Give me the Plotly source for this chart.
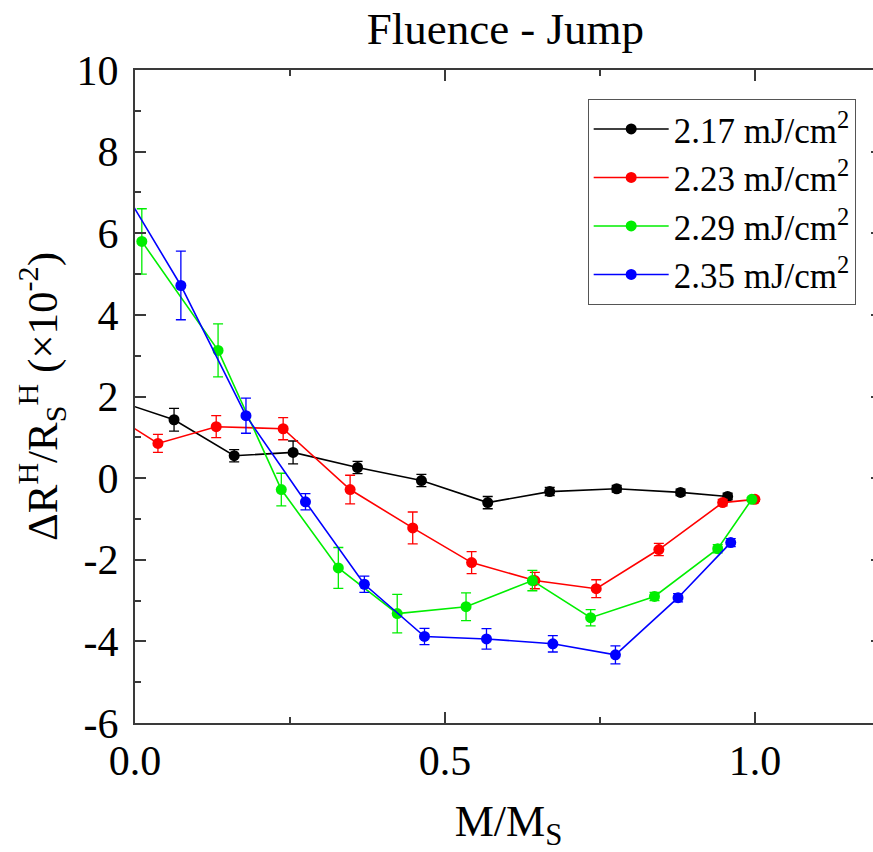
# Fluence - Jump: Hall jump vs M/Ms for four pump fluences
import plotly.graph_objects as go

# data (first point of some series sits just left of the axis)
x_217 = [-0.02, 0.063, 0.16, 0.255, 0.359, 0.462, 0.569, 0.669, 0.777, 0.880, 0.956]
y_217 = [1.85, 1.43, 0.55, 0.63, 0.26, -0.06, -0.6, -0.33, -0.26, -0.35, -0.45]
e_217 = [0, 0.28, 0.15, 0.28, 0.15, 0.15, 0.15, 0.1, 0.08, 0.08, 0.08]

x_223 = [-0.02, 0.037, 0.131, 0.239, 0.347, 0.448, 0.543, 0.645, 0.744, 0.845, 0.948, 1.0]
y_223 = [1.4, 0.85, 1.26, 1.21, -0.28, -1.22, -2.07, -2.51, -2.71, -1.75, -0.6, -0.52]
e_223 = [0, 0.22, 0.27, 0.27, 0.35, 0.39, 0.27, 0.2, 0.22, 0.15, 0.08, 0.05]

x_229 = [0.011, 0.134, 0.236, 0.328, 0.423, 0.534, 0.641, 0.735, 0.838, 0.94, 0.995]
y_229 = [5.8, 3.13, -0.28, -2.2, -3.32, -3.15, -2.51, -3.42, -2.9, -1.73, -0.52]
e_229 = [0.8, 0.65, 0.4, 0.5, 0.47, 0.34, 0.25, 0.2, 0.1, 0.1, 0.05]

x_235 = [-0.02, 0.074, 0.179, 0.275, 0.370, 0.467, 0.567, 0.674, 0.775, 0.876, 0.961]
y_235 = [7.1, 4.72, 1.53, -0.58, -2.6, -3.88, -3.94, -4.06, -4.33, -2.93, -1.58]
e_235 = [0, 0.84, 0.43, 0.2, 0.2, 0.2, 0.25, 0.2, 0.22, 0.1, 0.1]

names = ["2.17 mJ/cm<sup>2</sup>", "2.23 mJ/cm<sup>2</sup>",
         "2.29 mJ/cm<sup>2</sup>", "2.35 mJ/cm<sup>2</sup>"]
colors = ["#000000", "#ff0000", "#00ee00", "#0000ff"]

x_ticks = [0, 0.5, 1.0]
x_ticklabels = ["0.0", "0.5", "1.0"]
y_ticks = [-6, -4, -2, 0, 2, 4, 6, 8, 10]
y_ticklabels = ["-6", "-4", "-2", "0", "2", "4", "6", "8", "10"]

series = [(x_217, y_217, e_217), (x_223, y_223, e_223),
          (x_229, y_229, e_229), (x_235, y_235, e_235)]

FONT = "Times New Roman, Liberation Serif, serif"

fig = go.Figure()
for (xs, ys, es), name, col in zip(series, names, colors):
    fig.add_trace(go.Scatter(
        x=xs, y=ys, name=name, mode="lines+markers",
        line=dict(color=col, width=1.6),
        marker=dict(color=col, size=11),
        error_y=dict(type="data", array=es, visible=True,
                     color=col, thickness=1.3, width=5),
        cliponaxis=True,
    ))

axis_common = dict(
    showline=True, linecolor="#3a3a3a", linewidth=2,
    mirror="ticks", ticks="inside", ticklen=11, tickwidth=2,
    tickcolor="#3a3a3a", showgrid=False, zeroline=False,
    tickfont=dict(family=FONT, size=42, color="black"),
    automargin=False,
)

fig.update_xaxes(
    range=[0, 1.205], tickvals=x_ticks, ticktext=x_ticklabels,
    minor=dict(tickvals=[0.25, 0.75], ticks="inside", ticklen=6,
               tickwidth=2, tickcolor="#3a3a3a"),
    title=dict(text="M/M<sub>S</sub>", font=dict(family=FONT, size=44, color="black"),
               standoff=28),
    **axis_common,
)
fig.update_yaxes(
    range=[-6, 10], tickvals=y_ticks, ticktext=y_ticklabels,
    minor=dict(tickvals=[-5, -3, -1, 1, 3, 5, 7, 9], ticks="inside", ticklen=6,
               tickwidth=2, tickcolor="#3a3a3a"),
    title=dict(text="ΔR<sup>H</sup>/R<sub>S</sub><sup>H</sup> (×10<sup>-2</sup>)",
               font=dict(family=FONT, size=43, color="black"), standoff=6),
    ticklabelstandoff=6,
    **axis_common,
)

# figure is a bit wider than the window so the right frame line falls just off-page
fig.update_layout(
    width=882, height=852,
    margin=dict(l=135, r=0, t=70, b=129),
    paper_bgcolor="white", plot_bgcolor="white",
    title=dict(text="Fluence - Jump", x=0.573, xanchor="center",
               y=0.967, yanchor="middle", yref="container",
               font=dict(family=FONT, size=45, color="black")),
    legend=dict(x=0.606, y=0.956, xanchor="left", yanchor="top",
                bordercolor="#555555", borderwidth=1, bgcolor="white",
                font=dict(family=FONT, size=35, color="black"),
                itemwidth=75, tracegroupgap=0),
    showlegend=True,
)

# page body has a default 8px margin, drop it so the figure sits at the corner
fig.write_html("out.html", config={"displayModeBar": False},
               post_script="document.body.style.margin='0';document.body.style.overflow='hidden';")
